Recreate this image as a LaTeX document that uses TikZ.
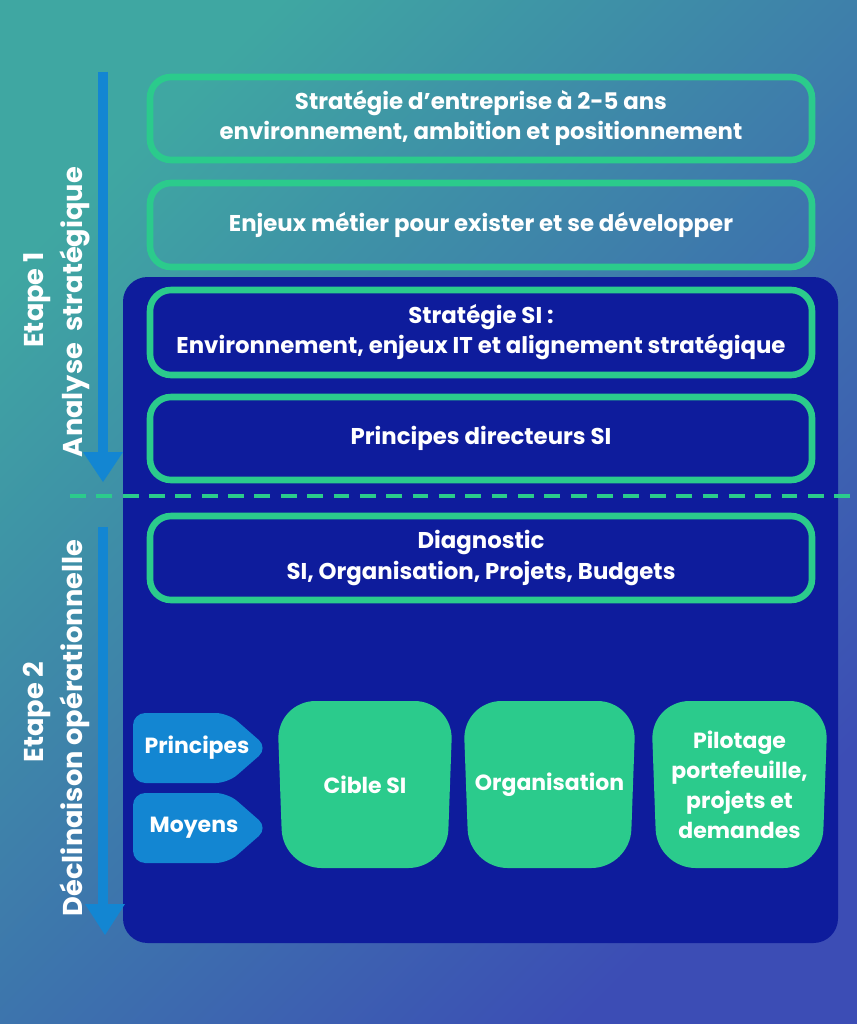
\documentclass[tikz,border=0pt]{standalone}
\usepackage{fontspec}
\setmainfont{Poppins}
\usetikzlibrary{calc,shapes.symbols}
\definecolor{navy}{HTML}{0E1C9C}
\definecolor{mint}{HTML}{2BCB8C}
\definecolor{sky}{HTML}{1386D2}
\definecolor{teal}{HTML}{3FA7A2}
\definecolor{blu}{HTML}{3C4DB5}
\tikzset{
  frame/.style={draw=mint,line width=5pt*0.75,rounded corners=12pt,text=white,font=\bfseries\fontsize{13}{17.5}\selectfont,align=center},
  side/.style={text=white,font=\bfseries\fontsize{15.5}{19}\selectfont,rotate=90},
  tab/.style={fill=sky,text=white,font=\bfseries\fontsize{12.5}{15}\selectfont},
  goal/.style={fill=mint,text=white,font=\bfseries\fontsize{12.5}{17}\selectfont,align=center},
  stepline/.style={sky,line width=8pt*0.75}
}
\begin{document}
\begin{tikzpicture}[x=0.02cm,y=-0.02cm]
		
		\shade[left color=teal,right color=blu,shading angle=45] (0,0) rectangle (857,1024);
		\useasboundingbox (0,0) rectangle (857,1024);
		\fill[navy,rounded corners=14pt] (123,277) rectangle (838,943);
		
		% frames
		\draw[frame] (150,77) rectangle (812,160);
		\node[frame,draw=none] (strat) at (481,118) {Stratégie d'entreprise à 2-5 ans\\environnement, ambition et positionnement};
		\draw[frame] (150,183) rectangle (812,267);
		\node[frame,draw=none] (enjeux) at (481,225) {Enjeux métier pour exister et se développer};
		\draw[frame] (150,290) rectangle (812,375);
		\node[frame,draw=none] (si) at (481,332) {Stratégie SI :\\Environnement, enjeux IT et alignement stratégique};
		\draw[frame] (150,397) rectangle (812,480);
		\node[frame,draw=none] (princ) at (481,438) {Principes directeurs SI};
		\draw[mint,line width=3pt*0.75,dash pattern=on 9pt off 6pt] (70,496) -- (857,496);
		\draw[frame] (150,516) rectangle (812,600);
		\node[frame,draw=none] (diag) at (481,558) {Diagnostic\\SI, Organisation, Projets, Budgets};
		
		% steps
		\draw[stepline] (103,72) -- (103,458);
		\fill[sky] (83,452) -- (123,452) -- (103,482) -- cycle;
		\draw[stepline] (103,527) -- (103,910);
		\fill[sky] (85,904) -- (125,904) -- (105,935) -- cycle;
		\node[side] (e1) at (37,300) {Etape 1};
		\node[side] (a1) at (75,312) {Analyse~~stratégique};
		\node[side] (e2) at (37,712) {Etape 2};
		\node[side] (a2) at (75,728) {Déclinaison opérationnelle};
		
		% inputs
		\fill[tab,rounded corners=7pt] (133,713) -- (228,713) -- (268,748) -- (228,783) -- (133,783) -- cycle;
		\node[tab,fill=none] (pr) at (197,748) {Principes};
		\fill[tab,rounded corners=7pt] (133,793) -- (228,793) -- (268,828) -- (228,863) -- (133,863) -- cycle;
		\node[tab,fill=none] (mo) at (194,828) {Moyens};
		
		% targets
		\foreach \x/\w/\t [count=\i] in {277/176/Cible SI,463/173/Organisation,651/177/{Pilotage\\portefeuille,\\projets et\\demandes}}{
			\fill[goal,rounded corners=22pt] (\x,701) -- (\x+\w,701) -- (\x+\w-6,868) -- (\x+6,868) -- cycle;
			\node[goal,fill=none] (g\i) at (\x+\w/2,785) {\t};
		}
		
	\end{tikzpicture}
\end{document}
